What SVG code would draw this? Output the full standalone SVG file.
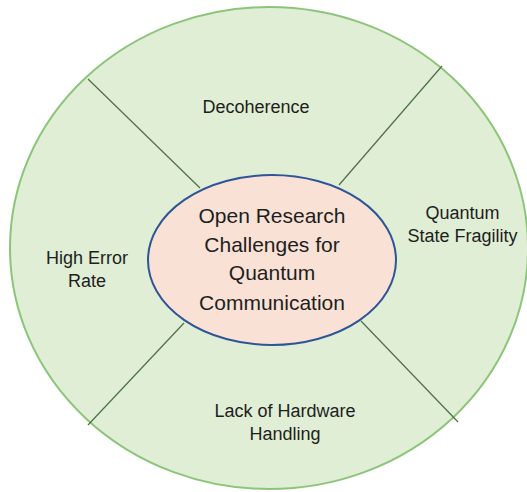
<svg xmlns="http://www.w3.org/2000/svg" width="527" height="492" viewBox="0 0 527 492">
<style>
.lbl{font-family:"Liberation Sans",Arial,sans-serif;font-size:18px;fill:#1e1e1e;text-anchor:middle}
.ctr{font-family:"Liberation Sans",Arial,sans-serif;font-size:21px;fill:#1e1e1e;text-anchor:middle}
.div{stroke:#4f6e42;stroke-width:1.2;fill:none}
</style>
<rect width="527" height="492" fill="#ffffff"/>
<g id="outer">
<ellipse cx="269" cy="248" rx="259" ry="241" fill="#dfeed4" stroke="#8cc57a" stroke-width="2"/>
</g>
<g id="connectors">
<line class="div" x1="88" y1="79" x2="200" y2="188"/>
<line class="div" x1="442" y1="66" x2="339" y2="185"/>
<line class="div" x1="88" y1="425" x2="184" y2="323"/>
<line class="div" x1="458" y1="422" x2="361" y2="321"/>
</g>
<g id="center">
<ellipse cx="272" cy="260" rx="124" ry="85" fill="#f9e1d5" stroke="#2e5597" stroke-width="2"/>
<text class="ctr" x="272" y="223">Open Research</text>
<text class="ctr" x="272" y="251.5">Challenges for</text>
<text class="ctr" x="272" y="280">Quantum</text>
<text class="ctr" x="272" y="309.5">Communication</text>
</g>
<g id="decoherence">
<text class="lbl" x="256" y="113">Decoherence</text>
</g>
<g id="fragility">
<text class="lbl" x="462.5" y="219">Quantum</text>
<text class="lbl" x="462.5" y="241.5">State Fragility</text>
</g>
<g id="hardware">
<text class="lbl" x="285" y="417">Lack of Hardware</text>
<text class="lbl" x="285" y="440">Handling</text>
</g>
<g id="error">
<text class="lbl" x="87" y="264">High Error</text>
<text class="lbl" x="87" y="286.5">Rate</text>
</g>
</svg>
